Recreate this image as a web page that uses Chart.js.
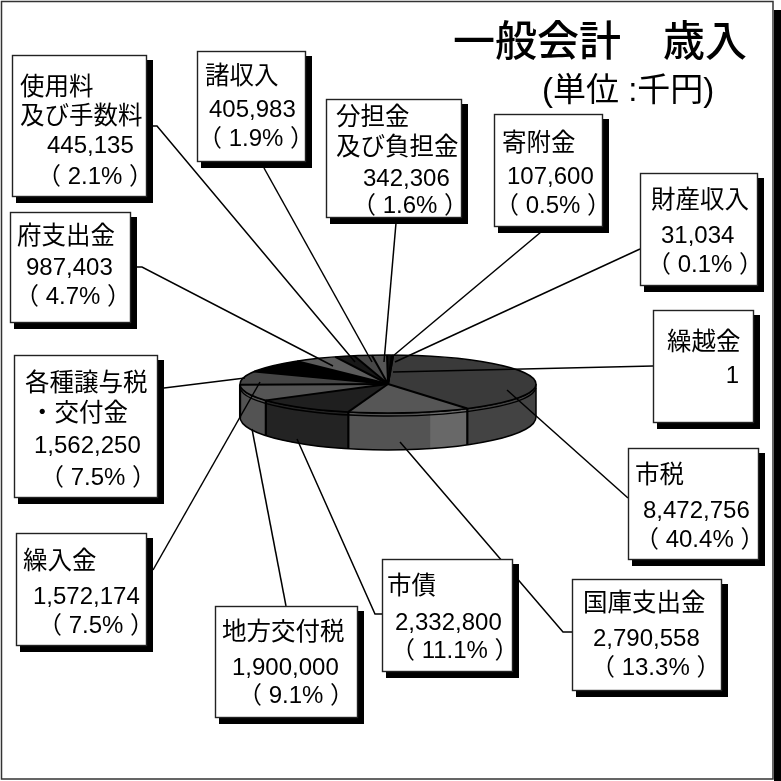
<!DOCTYPE html>
<html lang="ja">
<head>
<meta charset="utf-8">
<title>一般会計 歳入</title>
<style>html,body{margin:0;padding:0;background:#fff}canvas{display:block}</style>
<script src="https://cdn.jsdelivr.net/npm/chart.js@4"></script>
</head>
<body>
<canvas id="c" width="781" height="781"></canvas>
<script>
// ---- data ----
const titleText = "一般会計　歳入";
const unitText = "(単位 :千円)";
const categories = ["繰越金","市税","国庫支出金","市債","地方交付税","繰入金","各種譲与税\n・交付金","府支出金","使用料\n及び手数料","諸収入","分担金\n及び負担金","寄附金","財産収入"];
const values = [1,8472756,2790558,2332800,1900000,1572174,1562250,987403,445135,405983,342306,107600,31034];
const percents = [null,40.4,13.3,11.1,9.1,7.5,7.5,4.7,2.1,1.9,1.6,0.5,0.1];

// ---- styles ----
const topColors  = ["#000000","#3a3a3a","#565656","#1f1f1f","#555555","#454545","#000000","#5c5c5c","#181818","#474747","#565656","#101010","#262626"];
const sideColors = ["#000000","#434343","#535353","#232323","#535353","#454545","#000000","#5c5c5c","#181818","#474747","#565656","#101010","#262626"];
const FONT = '"Liberation Sans","Noto Sans CJK JP",sans-serif';
const ROTATION_DEG = 2;
const TILT_RY = 29, BASE_DROP = 33, BASE_RY = 33, RIM_GAP = 3;
const band = {slice: 2, fraction: 0.33, color: "#686868"};

// ---- layout of callouts, same order as categories ----
const boxes = [
 [653,310,754,423],[628,448,759,560],[572,579,722,691],[382,559,513,672],[215,606,358,718],
 [16,533,147,646],[14,355,158,498],[10,212,131,323],[12,55,147,197],[197,51,306,162],
 [326,99,462,218],[494,114,603,227],[640,173,758,286]];
const lineX = [
 [667,739],[635,643,635],[583,593,591],[387,395,391],[222,232,238],
 [23,33,38],[25,30,34,40],[17,26,15],[20,20,47,37],[205,209,198],
 [336,336,363,352],[502,507,495],[651,661,647]];
const lineY = [
 [350,383],[483,518,547],[611,646,675],[594,630,658],[640,675,703],
 [569,604,633],[391,421,453,485],[244,275,304],[95,124,153,184],[84,117,146],
 [125,155,186,213],[151,184,213],[208,243,272]];
const leaders = [
 [[653,366],[393,372]],
 [[628,498],[507,390]],
 [[572,632],[563,632],[400,442]],
 [[382,614],[375,614],[297,439]],
 [[286,606],[252,429]],
 [[153,570],[260,382]],
 [[164,388],[245,378]],
 [[137,267],[142,267],[333,366]],
 [[153,126],[157,126],[355,362]],
 [[264,168],[372,362]],
 [[396,223],[384,362]],
 [[541,232],[393,356]],
 [[640,249],[395,362]]];

const CX = 388, CY = 384, R = 148;

function sidePath(ctx, el, a0, a1) {
  ctx.beginPath();
  ctx.ellipse(el.x, el.y, el.outerRadius, TILT_RY, 0, a0, a1, false);
  ctx.ellipse(el.x, el.y + BASE_DROP, el.outerRadius, BASE_RY, 0, a1, a0, true);
  ctx.closePath();
}
function norm(a){ const t = Math.PI*2; return ((a % t) + t) % t; }

const pie3d = {
  id: "pie3d",
  beforeDraw(chart) {
    const ctx = chart.ctx;
    ctx.save();
    ctx.fillStyle = "#fff";
    ctx.fillRect(0,0,781,781);
    ctx.fillStyle = "#000";
    ctx.fillRect(774,10,7,771);
    ctx.strokeStyle = "#333";
    ctx.lineWidth = 1.5;
    ctx.strokeRect(1.5,1.5,771.5,777.5);
    ctx.restore();
  },
  beforeDatasetsDraw(chart) {
    const ctx = chart.ctx;
    const arcs = chart.getDatasetMeta(0).data;
    ctx.save();
    arcs.forEach((el,i) => {
      let s = el.startAngle, e = el.endAngle;
      const shift = norm(s) - s; s += shift; e += shift;
      const ranges = [[s,e],[s-Math.PI*2,e-Math.PI*2]];
      ranges.forEach(([p,q]) => {
        const a0 = Math.max(p,0), a1 = Math.min(q,Math.PI);
        if (a1 <= a0) return;
        sidePath(ctx, el, a0, a1);
        ctx.fillStyle = sideColors[i];
        ctx.fill();
        if (i === band.slice) {
          // lit facet at the clockwise-start part of the wall
          sidePath(ctx, el, a0, a0 + (a1-a0)*band.fraction);
          ctx.fillStyle = band.color;
          ctx.fill();
        }
      });
    });
    // outline of the wall, and wall dividers
    const el0 = arcs[0];
    ctx.strokeStyle = "#000";
    ctx.lineWidth = 1.5;
    sidePath(ctx, el0, 0, Math.PI);
    ctx.stroke();
    ctx.lineWidth = 2.2;
    arcs.forEach(el => {
      const a = norm(el.startAngle);
      if (a > 0 && a < Math.PI) {
        const x = el.x + el.outerRadius*Math.cos(a);
        ctx.beginPath();
        ctx.moveTo(x, el.y + TILT_RY*Math.sin(a));
        ctx.lineTo(x, el.y + BASE_DROP + BASE_RY*Math.sin(a));
        ctx.stroke();
      }
    });
    // rim
    ctx.lineWidth = 1.3;
    ctx.beginPath();
    ctx.ellipse(el0.x, el0.y + RIM_GAP, el0.outerRadius, TILT_RY, 0, 0.03, Math.PI-0.03);
    ctx.stroke();
    ctx.restore();
    // squash the library's round pie into the tilted top face
    ctx.save();
    ctx.translate(el0.x, el0.y);
    ctx.scale(1, TILT_RY / el0.outerRadius);
    ctx.translate(-el0.x, -el0.y);
  },
  afterDatasetsDraw(chart) {
    const ctx = chart.ctx;
    ctx.restore();
    const arcs = chart.getDatasetMeta(0).data;
    const el0 = arcs[0];
    ctx.save();
    ctx.strokeStyle = "#000";
    ctx.lineCap = "butt";
    ctx.lineWidth = 2;
    arcs.forEach(el => {
      ctx.beginPath();
      ctx.moveTo(el.x, el.y);
      ctx.lineTo(el.x + el.outerRadius*Math.cos(el.startAngle), el.y + TILT_RY*Math.sin(el.startAngle));
      ctx.stroke();
    });
    ctx.lineWidth = 1.5;
    ctx.beginPath();
    ctx.ellipse(el0.x, el0.y, el0.outerRadius, TILT_RY, 0, 0, Math.PI*2);
    ctx.stroke();
    ctx.restore();
  },
  afterDraw(chart) {
    const ctx = chart.ctx;
    ctx.save();
    // leader lines
    ctx.strokeStyle = "#000";
    ctx.lineWidth = 1.5;
    leaders.forEach(pts => {
      ctx.beginPath();
      pts.forEach((p,k) => k ? ctx.lineTo(p[0],p[1]) : ctx.moveTo(p[0],p[1]));
      ctx.stroke();
    });
    // callouts
    boxes.forEach((b,i) => {
      const [x1,y1,x2,y2] = b;
      ctx.fillStyle = "#000";
      ctx.fillRect(x1+4,y1+5,x2-x1+2,y2-y1+1);
      ctx.fillStyle = "#fff";
      ctx.fillRect(x1,y1,x2-x1,y2-y1);
      ctx.strokeStyle = "#222";
      ctx.lineWidth = 1.4;
      ctx.strokeRect(x1+.5,y1+.5,x2-x1-1,y2-y1-1);
      const nameLines = categories[i].split("\n");
      const lines = nameLines.slice();
      lines.push(values[i].toLocaleString("en-US"));
      if (percents[i] !== null) lines.push("（ " + percents[i].toFixed(1) + "% ）");
      ctx.fillStyle = "#000";
      ctx.textBaseline = "alphabetic";
      lines.forEach((t,k) => {
        const rightAligned = i === 0 && k === 1;
        ctx.font = (k < nameLines.length ? "24.5px " : "24px ") + FONT;
        ctx.textAlign = rightAligned ? "right" : "left";
        ctx.fillText(t, lineX[i][k], lineY[i][k]);
      });
    });
    // heading
    ctx.textAlign = "left";
    ctx.fillStyle = "#000";
    ctx.font = "500 42px " + FONT;
    ctx.fillText(titleText, 453, 56);
    ctx.font = "33px " + FONT;
    ctx.fillText(unitText, 542, 101);
    ctx.restore();
  }
};

new Chart(document.getElementById("c").getContext("2d"), {
  type: "pie",
  data: {
    labels: categories,
    datasets: [{ data: values, backgroundColor: topColors, borderWidth: 0, clip: false }]
  },
  options: {
    responsive: false,
    animation: false,
    events: [],
    rotation: ROTATION_DEG,
    layout: { padding: { left: CX-R, right: 781-CX-R, top: CY-R, bottom: 781-CY-R } },
    plugins: { legend: { display: false }, tooltip: { enabled: false }, title: { display: false } }
  },
  plugins: [pie3d]
});
</script>
</body>
</html>
